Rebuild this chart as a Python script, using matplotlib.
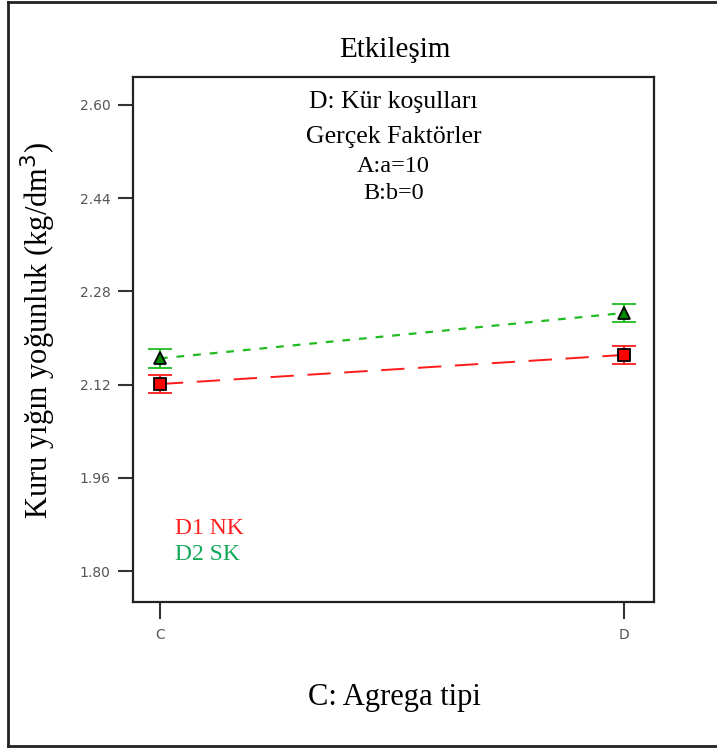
import matplotlib.pyplot as plt
from matplotlib.lines import Line2D

# data
categories = ["C", "D"]
d1_values = [2.121, 2.171]   # D1 NK
d2_values = [2.165, 2.243]   # D2 SK
d1_err = [0.015, 0.016]
d2_err = [0.016, 0.016]
yticks = [1.80, 1.96, 2.12, 2.28, 2.44, 2.60]

serif = "Liberation Serif"

fig = plt.figure(figsize=(7.17, 7.49), dpi=100)
ax = fig.add_axes([0.1855, 0.1963, 0.7266, 0.7009])

x = list(range(len(categories)))

ax.errorbar(x, d1_values, yerr=d1_err, color="#ff1a1a", ls=(0, (12, 7)), lw=1.4,
            marker="s", ms=8, mfc="#ff0000", mec="black", mew=1.3,
            ecolor="#ff1a1a", elinewidth=1.5, capsize=8.5, capthick=1.5, zorder=3)
ax.errorbar(x, d2_values, yerr=d2_err, color="#22bb22", ls=(0, (3.5, 4)), lw=1.6,
            marker="^", ms=8, mfc="#008800", mec="black", mew=1.3,
            ecolor="#22bb22", elinewidth=1.5, capsize=8.5, capthick=1.5, zorder=3)

ax.set_xlim(-0.058, 1.065)
ax.set_ylim(1.747, 2.648)
ax.set_xticks(x)
ax.set_xticklabels(categories)
ax.set_yticks(yticks)
ax.set_yticklabels([f"{v:.2f}" for v in yticks])
ax.tick_params(axis="both", colors="#333333", labelcolor="#555555", labelsize=10,
               width=1.5, length=11, pad=5)
ax.tick_params(axis="x", length=12, pad=7)
for s in ax.spines.values():
    s.set_linewidth(1.6)
    s.set_color("#222222")

fig.text(0.5506, 0.933, "Etkileşim", ha="center", va="center", fontsize=21, family=serif)
block = [("D: Kür koşulları", 0.952, 18.5), ("Gerçek Faktörler", 0.886, 18.5),
         ("A:a=10", 0.829, 17.5), ("B:b=0", 0.779, 17.5)]
for txt, yy, fs in block:
    ax.text(0.5, yy, txt, transform=ax.transAxes, ha="center", va="center",
            fontsize=fs, family=serif)

ax.text(0.08, 0.14, "D1 NK", transform=ax.transAxes, ha="left", va="center",
        fontsize=17, family=serif, color="#ff2020")
ax.text(0.08, 0.09, "D2 SK", transform=ax.transAxes, ha="left", va="center",
        fontsize=17, family=serif, color="#12a85a")

fig.text(0.5506, 0.069, "C: Agrega tipi", ha="center", va="center", fontsize=22, family=serif)
fig.text(0.053, 0.559, "Kuru yığın yoğunluk (kg/dm$^3$)", ha="center", va="center",
         rotation=90, fontsize=22, family=serif)

# outer frame (left, top, bottom)
for xs, ys in [([0.011, 0.011], [0.004, 0.997]), ([0.011, 1.0], [0.997, 0.997]),
               ([0.011, 1.0], [0.004, 0.004])]:
    fig.add_artist(Line2D(xs, ys, transform=fig.transFigure, color="#222222", lw=2))

fig.savefig("out.png", dpi=100, facecolor="white")
